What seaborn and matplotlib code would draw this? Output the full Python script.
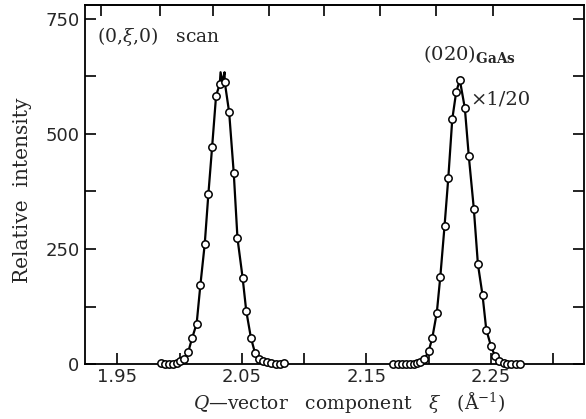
import numpy as np
import pandas as pd
import matplotlib
matplotlib.use("Agg")
import matplotlib.pyplot as plt
import seaborn as sns

# ---- data ----
peak1_x = [1.9852, 1.9885, 1.9917, 1.9944, 1.9976, 2.0003, 2.0038, 2.0070, 2.0100,
           2.0137, 2.0167, 2.0202, 2.0231, 2.0261, 2.0293, 2.0323, 2.0363, 2.0398,
           2.0435, 2.0465, 2.0506, 2.0535, 2.0573, 2.0605, 2.0637, 2.0669, 2.0705,
           2.0737, 2.0772, 2.0804, 2.0839]
peak1_y = [2, 0, 0, 0, 3, 6, 11, 27, 56, 88, 172, 261, 369, 471, 583, 609, 612, 547,
           415, 273, 188, 116, 57, 25, 11, 6, 5, 2, 0, 0, 3]

peak2_x = [2.1718, 2.1751, 2.1783, 2.1815, 2.1847, 2.1879, 2.1906, 2.1933, 2.1967,
           2.2000, 2.2029, 2.2066, 2.2094, 2.2128, 2.2158, 2.2190, 2.2222, 2.2251,
           2.2291, 2.2323, 2.2363, 2.2396, 2.2433, 2.2463, 2.2500, 2.2532, 2.2564,
           2.2602, 2.2632, 2.2664, 2.2698, 2.2731]
peak2_y = [0, 0, 0, 0, 0, 0, 2, 5, 11, 28, 56, 112, 190, 300, 404, 532, 592, 617,
           556, 451, 338, 217, 150, 75, 40, 18, 6, 2, 0, 0, 0, 0]

# fitted curve for peak 1 has a thin double spike at the top
apex1_x = [2.0329, 2.0345, 2.0361]
apex1_y = [634, 612, 634]

x_major = [1.95, 2.05, 2.15, 2.25]
x_minor = [2.00, 2.10, 2.20, 2.30]
x_labels = ["1.95", "2.05", "2.15", "2.25"]
y_major = [0, 250, 500, 750]
y_minor = [125, 375, 625]
y_labels = ["0", "250", "500", "750"]
top_ticks = [1.937, 1.984, 2.027, 2.072, 2.116, 2.161, 2.206, 2.252]

# ---- build tables ----
pts = pd.DataFrame({
    "x": peak1_x + peak2_x,
    "y": peak1_y + peak2_y,
    "peak": ["p1"] * len(peak1_x) + ["p2"] * len(peak2_x),
})
fit1 = pd.DataFrame({"x": peak1_x + apex1_x, "y": peak1_y + apex1_y}).sort_values("x")
fit1["peak"] = "p1"
fit2 = pd.DataFrame({"x": peak2_x, "y": peak2_y, "peak": "p2"})
fit = pd.concat([fit1, fit2], ignore_index=True)

sns.set_theme(style="ticks")
plt.rcParams["font.family"] = ["DejaVu Serif"]
plt.rcParams["mathtext.fontset"] = "dejavuserif"

fig = plt.figure(figsize=(5.86, 4.19), dpi=100)
ax = fig.add_axes([0.145, 0.131, 0.852, 0.857])

sns.lineplot(data=fit, x="x", y="y", units="peak", estimator=None, sort=False,
             color="black", linewidth=1.6, ax=ax, legend=False)
sns.scatterplot(data=pts, x="x", y="y", marker="o", s=28, facecolor="white",
                edgecolor="black", linewidth=1.1, ax=ax, legend=False, zorder=3,
                clip_on=False)

ax.set_xlim(1.924, 2.325)
ax.set_ylim(0, 780)

ax.set_xticks(x_major)
ax.set_xticks(x_minor, minor=True)
ax.set_xticklabels(x_labels)
ax.set_yticks(y_major)
ax.set_yticks(y_minor, minor=True)
ax.set_yticklabels(y_labels)

ax.tick_params(which="both", direction="in", length=8, width=1.2, color="black",
               left=True, right=True, bottom=True, top=False)
ax.tick_params(axis="both", which="major", labelsize=13)
ax.tick_params(axis="x", which="major", pad=3)
ax.tick_params(axis="y", which="major", pad=4)
for lab in ax.get_xticklabels() + ax.get_yticklabels():
    lab.set_family("DejaVu Sans")

# top axis ticks (different spacing in the original)
top = ax.secondary_xaxis("top")
top.set_xticks(top_ticks)
top.set_xticklabels([])
top.tick_params(direction="in", length=8, width=1.2, color="black")
top.xaxis.set_minor_locator(matplotlib.ticker.NullLocator())
top.spines["top"].set_linewidth(1.3)

for s in ax.spines.values():
    s.set_linewidth(1.3)
    s.set_color("black")

ax.set_xlabel(r"$Q$—vector   component   $\xi$   (Å$^{-1}$)", fontsize=13.5)
ax.xaxis.set_label_coords(0.53, -0.072)
ax.set_ylabel("Relative  intensity", fontsize=14.5)
ax.yaxis.set_label_coords(-0.106, 0.485)

ax.text(1.934, 711, r"(0,$\xi$,0)   scan", fontsize=13.5, va="center", ha="left")
ax.text(2.1955, 674, r"(020)$_{\mathbf{GaAs}}$", fontsize=14, va="center", ha="left")
ax.text(2.2335, 574, r"×1/20", fontsize=14, va="center", ha="left")

fig.savefig("out.png", dpi=100)
